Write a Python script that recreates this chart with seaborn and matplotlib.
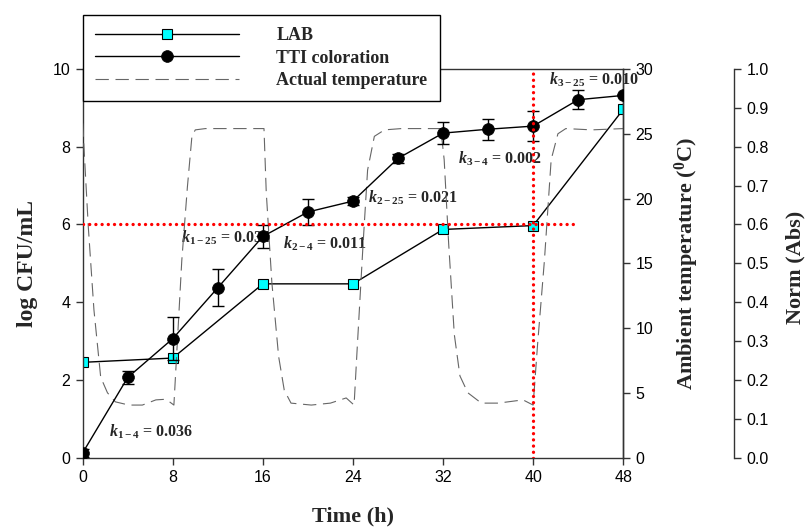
import matplotlib
matplotlib.use('Agg')
import matplotlib.pyplot as plt
import seaborn as sns

# LAB counts (log CFU/mL)
time_lab = [0, 8, 16, 24, 32, 40, 48]
lab_log = [2.45, 2.56, 4.47, 4.47, 5.87, 5.97, 8.96]
lab_err = [0.05, 0.06, 0.05, 0.05, 0.05, 0.10, 0.06]

# TTI coloration (Norm Abs)
time_tti = [0, 4, 8, 12, 16, 20, 24, 28, 32, 36, 40, 44, 48]
tti_norm = [0.012, 0.206, 0.306, 0.437, 0.569, 0.632, 0.660, 0.770, 0.835, 0.845, 0.853, 0.921, 0.932]
tti_err = [0.010, 0.016, 0.055, 0.048, 0.030, 0.033, 0.010, 0.012, 0.028, 0.027, 0.038, 0.025, 0.0]

# actual ambient temperature (deg C)
time_temp = [0.0, 0.5, 1.0, 1.6, 2.2, 2.9, 4.1, 5.3, 6.5, 7.4, 8.1, 8.4, 8.8, 9.3, 9.7, 10.0, 10.9,
             13.0, 16.1, 16.3, 16.8, 17.4, 17.9, 18.5, 20.3, 22.0, 23.4, 24.1, 24.4, 24.9, 25.3,
             25.9, 26.8, 28.3, 31.8, 32.1, 32.5, 33.0, 33.5, 34.2, 35.4, 36.9, 39.1, 40.0, 40.4,
             41.0, 41.6, 42.2, 42.9, 45.2, 48.0]
temp_c = [25.8, 17.8, 11.4, 6.2, 5.0, 4.3, 4.05, 4.05, 4.45, 4.5, 4.05, 8.8, 15.2, 20.9, 24.8, 25.3, 25.4,
          25.4, 25.4, 20.5, 13.5, 7.8, 5.2, 4.2, 4.05, 4.2, 4.6, 4.05, 8.8, 16.5, 22.2,
          24.8, 25.3, 25.4, 25.4, 23.0, 16.5, 9.5, 6.3, 5.0, 4.2, 4.2, 4.45, 4.05, 8.8,
          15.2, 23.0, 25.0, 25.4, 25.3, 25.4]

# rate constant annotations: text, x, y (log axis)
k_labels = [r'$k_{\mathrm{1-4}}$ = 0.036', r'$k_{\mathrm{1-25}}$ = 0.034', r'$k_{\mathrm{2-4}}$ = 0.011',
            r'$k_{\mathrm{2-25}}$ = 0.021', r'$k_{\mathrm{3-4}}$ = 0.002', r'$k_{\mathrm{3-25}}$ = 0.010']
k_x = [2.3, 8.7, 17.75, 25.3, 33.3, 41.4]
k_y = [0.53, 5.52, 5.37, 6.56, 7.56, 9.61]

sns.set_style('ticks')
plt.rcParams['font.family'] = ['Liberation Sans', 'DejaVu Sans']
plt.rcParams['mathtext.fontset'] = 'custom'
plt.rcParams['mathtext.it'] = 'Liberation Serif:italic:bold'
plt.rcParams['mathtext.rm'] = 'Liberation Serif:bold'
plt.rcParams['mathtext.bf'] = 'Liberation Serif:bold'

serif = {'family': 'Liberation Serif', 'weight': 'bold'}
spine_col = '#333333'

fig = plt.figure(figsize=(8.05, 5.28), dpi=100)
ax = fig.add_axes([0.1027, 0.1335, 0.6715, 0.7358])
ax_t = ax.twinx()
ax_n = ax.twinx()
ax_n.spines['right'].set_position(('axes', 1.2056))

# LAB
ax.errorbar(time_lab, lab_log, yerr=lab_err, fmt='none', ecolor='black', elinewidth=0.8,
            capsize=3.5, capthick=0.8)
sns.lineplot(x=time_lab, y=lab_log, ax=ax, color='black', linewidth=1, marker='s', markersize=7.5,
             markerfacecolor='#00ffff', markeredgecolor='black', markeredgewidth=0.8, label='LAB',
             legend=False)

# temperature
sns.lineplot(x=time_temp, y=temp_c, ax=ax_t, color='#666666', linewidth=0.8,
             linestyle=(0, (12, 6)), label='Actual temperature', legend=False)

# TTI
ax_n.errorbar(time_tti, tti_norm, yerr=tti_err, fmt='none', ecolor='black', elinewidth=1,
              capsize=4, capthick=1)
sns.lineplot(x=time_tti, y=tti_norm, ax=ax_n, color='black', linewidth=1, marker='o', markersize=8.5,
             markerfacecolor='black', markeredgecolor='black', markeredgewidth=0.5,
             label='TTI coloration', legend=False)

# reference lines
ax_n.plot([0, 44.0], [0.6, 0.6], color='red', linewidth=2.4, linestyle=(0, (0.01, 1.85)),
          dash_capstyle='round')
ax_n.axvline(40, color='red', linewidth=2.4, linestyle=(0, (0.01, 1.85)), dash_capstyle='round')

for txt, x, y in zip(k_labels, k_x, k_y):
    ax.text(x, y, txt, ha='left', va='baseline', fontsize=11.5, **serif)

ax.set_xlim(0, 48)
ax.set_ylim(0, 10)
ax_t.set_ylim(0, 30)
ax_n.set_ylim(0, 1.0)
ax.set_xticks([0, 8, 16, 24, 32, 40, 48])
ax.set_yticks([0, 2, 4, 6, 8, 10])
ax_t.set_yticks([0, 5, 10, 15, 20, 25, 30])
ax_n.set_yticks([i / 10 for i in range(11)])
ax_n.set_yticklabels(['%.1f' % (i / 10) for i in range(11)])

for a in (ax, ax_t, ax_n):
    a.tick_params(labelsize=11.5, length=5, width=1, colors=spine_col, labelcolor='black', pad=4)
    for s in a.spines.values():
        s.set_color(spine_col)
        s.set_linewidth(1)
for s in ('top', 'left', 'bottom'):
    ax_n.spines[s].set_visible(False)
    ax_t.spines[s].set_visible(False)

ax.set_xlabel('Time (h)', fontsize=16, **serif)
ax.set_ylabel('log CFU/mL', fontsize=17, **serif)
ax_t.set_ylabel(r'Ambient temperature ($^{\mathrm{0}}$C)', fontsize=16, **serif)
ax_n.set_ylabel('Norm (Abs)', fontsize=16, **serif)
ax.xaxis.set_label_coords(0.5, -0.125)
ax.yaxis.set_label_coords(-0.083, 0.5)
ax_t.yaxis.set_label_coords(1.092, 0.5)
ax_n.yaxis.set_label_coords(1.300, 0.49)

handles = [ax.get_legend_handles_labels()[0][0], ax_n.get_legend_handles_labels()[0][0],
           ax_t.get_legend_handles_labels()[0][0]]
labels = ['LAB', 'TTI coloration', 'Actual temperature']
leg = ax_n.legend(handles, labels, loc='upper left', bbox_to_anchor=(0, 1.139), borderaxespad=0,
                  frameon=True, fancybox=False, framealpha=1, edgecolor='black', numpoints=1,
                  handlelength=8.0, handletextpad=2.05, labelspacing=0.3, borderpad=0.68,
                  prop={'family': 'Liberation Serif', 'weight': 'bold', 'size': 13})
leg.get_frame().set_linewidth(1)

fig.savefig('out.png', dpi=100)
